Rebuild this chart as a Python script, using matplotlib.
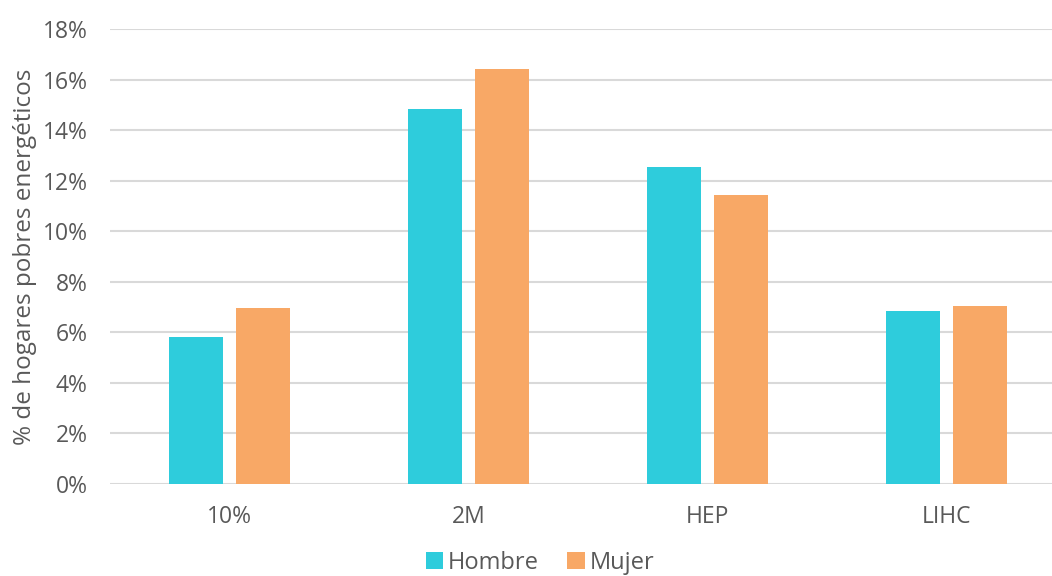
import matplotlib
matplotlib.use("Agg")
import matplotlib.pyplot as plt
import numpy as np
from matplotlib.ticker import FuncFormatter

# data
categories = ["10%", "2M", "HEP", "LIHC"]
hombre = [5.8, 14.85, 12.55, 6.85]
mujer = [6.95, 16.4, 11.45, 7.05]

CYAN = "#2ECCDC"
ORANGE = "#F8A866"
TEXT = "#595959"

plt.rcParams["font.family"] = ["Open Sans", "DejaVu Sans"]

fig = plt.figure(figsize=(10.52, 5.76), dpi=100)
ax = fig.add_axes([110 / 1052, 92 / 576, 956 / 1052, 455 / 576])

x = np.arange(len(categories))
w = 0.226
off = 0.142
ax.bar(x - off, hombre, w, color=CYAN, label="Hombre", zorder=3)
ax.bar(x + off, mujer, w, color=ORANGE, label="Mujer", zorder=3)

ax.set_xlim(-0.5, len(categories) - 0.5)
ax.set_ylim(0, 18)
ax.set_yticks(np.arange(0, 19, 2))
ax.yaxis.set_major_formatter(FuncFormatter(lambda v, p: f"{v:.0f}%"))
ax.set_xticks(x)
ax.set_xticklabels(categories)

ax.grid(axis="y", color="#d9d9d9", linewidth=1.5, zorder=0)
for s in ax.spines.values():
    s.set_visible(False)
ax.tick_params(length=0, labelsize=16.5, labelcolor=TEXT)
ax.tick_params(axis="y", pad=16)
ax.tick_params(axis="x", pad=15)

ax.set_ylabel("% de hogares pobres energéticos", fontsize=17.5, color=TEXT, labelpad=4)

leg = ax.legend(loc="upper center", bbox_to_anchor=(0.45, -0.11), ncol=2,
                frameon=False, fontsize=17, handlelength=0.75, handleheight=0.75,
                handletextpad=0.2, columnspacing=1.2, borderpad=0.2)
for t in leg.get_texts():
    t.set_color(TEXT)

fig.savefig("out.png", dpi=100)
